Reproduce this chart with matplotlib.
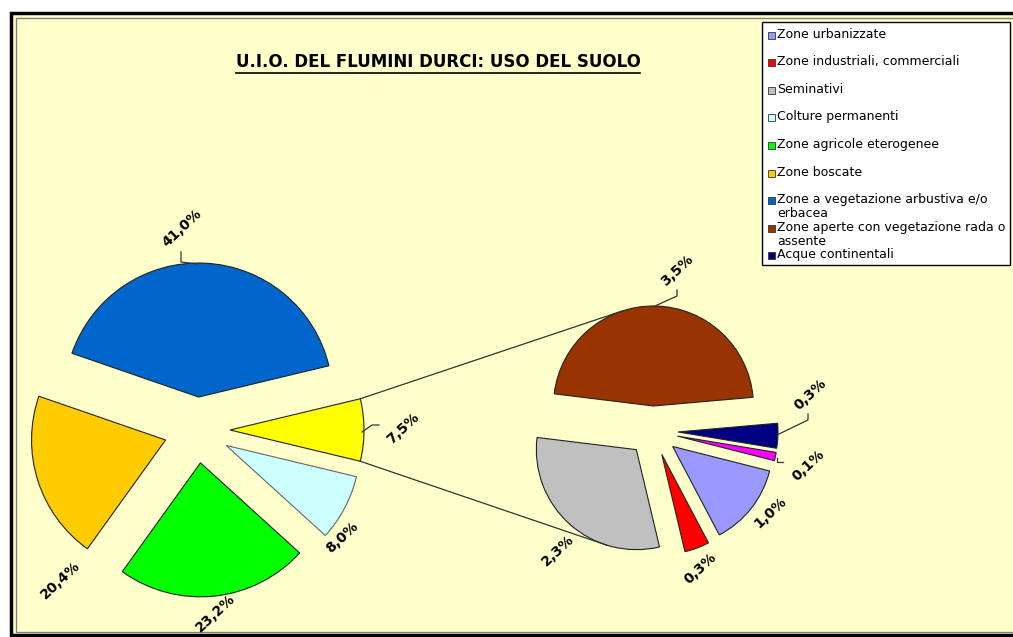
import numpy as np
import matplotlib.pyplot as plt
from matplotlib.patches import Rectangle

W, H = 1013, 637

# torta principale, in senso antiorario a partire dalla fetta "altre classi" (gialla)
main_names = ['Altre classi', 'Zone a vegetazione arbustiva e/o erbacea', 'Zone boscate',
              'Zone agricole eterogenee', 'Colture permanenti']
main_values = [7.5, 41.0, 20.4, 23.2, 8.0]
main_colors = ['#FFFF00', '#0066CC', '#FFCC00', '#00FF00', '#CCFFFF']

# torta secondaria: dettaglio del 7,5%
sub_names = ['Zone aperte con vegetazione rada o assente', 'Seminativi',
             'Zone industriali, commerciali', 'Zone urbanizzate', 'Zone umide',
             'Acque continentali']
sub_values = [3.5, 2.3, 0.3, 1.0, 0.1, 0.3]
sub_colors = ['#993300', '#C0C0C0', '#FF0000', '#9999FF', '#FF00FF', '#000080']

legend_labels = ['Zone urbanizzate', 'Zone industriali, commerciali', 'Seminativi',
                 'Colture permanenti', 'Zone agricole eterogenee', 'Zone boscate',
                 'Zone a vegetazione arbustiva e/o\nerbacea',
                 'Zone aperte con vegetazione rada o\nassente', 'Acque continentali']
legend_colors = ['#9999FF', '#FF0000', '#C0C0C0', '#CCFFFF', '#00FF00', '#FFCC00',
                 '#0066CC', '#993300', '#000080']

title = 'U.I.O. DEL FLUMINI DURCI: USO DEL SUOLO'


def img(x, y):
    # coordinate in pixel dall'alto -> coordinate dati
    return x, H - y


def pct(v):
    return f'{v:.1f}'.replace('.', ',') + '%'


fig = plt.figure(figsize=(W / 100, H / 100), dpi=100)
fig.patch.set_facecolor('white')
ax = fig.add_axes([0, 0, 1, 1])

# area del grafico
ax.add_patch(Rectangle(img(11, 635), W + 20, 622, facecolor='#FFFFCC',
                       edgecolor='black', linewidth=2.5, zorder=0))
ax.add_patch(Rectangle(img(16, 632), W + 20, 614, facecolor='none',
                       edgecolor='#808080', linewidth=1, zorder=0))

wedge_style = dict(edgecolor='#222222', linewidth=0.8)
start_main = -180 * main_values[0] / sum(main_values)
wm, _ = ax.pie(main_values, colors=main_colors, startangle=start_main,
               radius=134, center=img(197, 430), explode=[33] * len(main_values),
               wedgeprops=wedge_style)
ws, _ = ax.pie(sub_values, colors=sub_colors, startangle=5,
               radius=100, center=img(653, 431), explode=[25] * len(sub_values),
               wedgeprops=wedge_style)
wm[4].set_edgecolor('#666666')

ax.set_xlim(0, W)
ax.set_ylim(0, H)
ax.set_aspect('equal')
ax.axis('off')


def arc_point(w, ang):
    a = np.deg2rad(ang)
    return w.center[0] + w.r * np.cos(a), w.center[1] + w.r * np.sin(a)


# linee di collegamento tra le due torte
y0 = wm[0]
for ang_from, w_to, ang_to in [(y0.theta2, ws[0], 108), (y0.theta1, ws[1], 253)]:
    p1 = arc_point(y0, ang_from)
    p2 = arc_point(w_to, ang_to)
    ax.plot([p1[0], p2[0]], [p1[1], p2[1]], color='#333333', lw=0.9, zorder=3)

# etichette percentuali
main_label_pos = [(403, 428), (182, 228), (60, 580), (215, 613), (342, 537)]
sub_label_pos = [(677, 270), (558, 550), (700, 568), (770, 512), (808, 465), (810, 394)]
for vals, poss in [(main_values, main_label_pos), (sub_values, sub_label_pos)]:
    for v, (x, y) in zip(vals, poss):
        ax.text(*img(x, y), pct(v), rotation=43, rotation_mode='anchor',
                ha='center', va='center', fontsize=10, fontweight='bold',
                family='DejaVu Sans', color='black', zorder=5)

# linee guida delle etichette
leaders = [
    [(181, 252), (181, 262), (197, 264)],
    [(362, 432), (372, 425), (379, 425)],
    [(677, 290), (677, 296), (655, 306)],
    [(779, 434), (808, 420), (808, 414)],
    [(777, 458), (777, 462), (783, 462)],
]
for pts in leaders:
    xs, ys = zip(*[img(px, py) for px, py in pts])
    ax.plot(xs, ys, color='#333333', lw=0.9, zorder=4)

# titolo sottolineato
t = ax.text(*img(438, 62), title, ha='center', va='center', fontsize=12,
            fontweight='bold', family='DejaVu Sans', zorder=5)
fig.canvas.draw()
bb = t.get_window_extent().transformed(ax.transData.inverted())
ax.plot([bb.x0, bb.x1], [bb.y0 - 1.5, bb.y0 - 1.5], color='black', lw=1.2, zorder=5)

# legenda
ax.add_patch(Rectangle(img(762, 265), 248, 243, facecolor='white',
                       edgecolor='black', linewidth=1, zorder=6))
step = 27.6
for i, (lab, col) in enumerate(zip(legend_labels, legend_colors)):
    yc = 35 + i * step
    ax.add_patch(Rectangle(img(767.5, yc + 3.5), 7, 7, facecolor=col,
                           edgecolor='#333333', linewidth=0.6, zorder=7))
    ax.text(*img(777, yc - 7.5), lab, ha='left', va='top', fontsize=9,
            family='DejaVu Sans', linespacing=1.1, zorder=7)

fig.savefig('out.png', dpi=100, facecolor='white')
